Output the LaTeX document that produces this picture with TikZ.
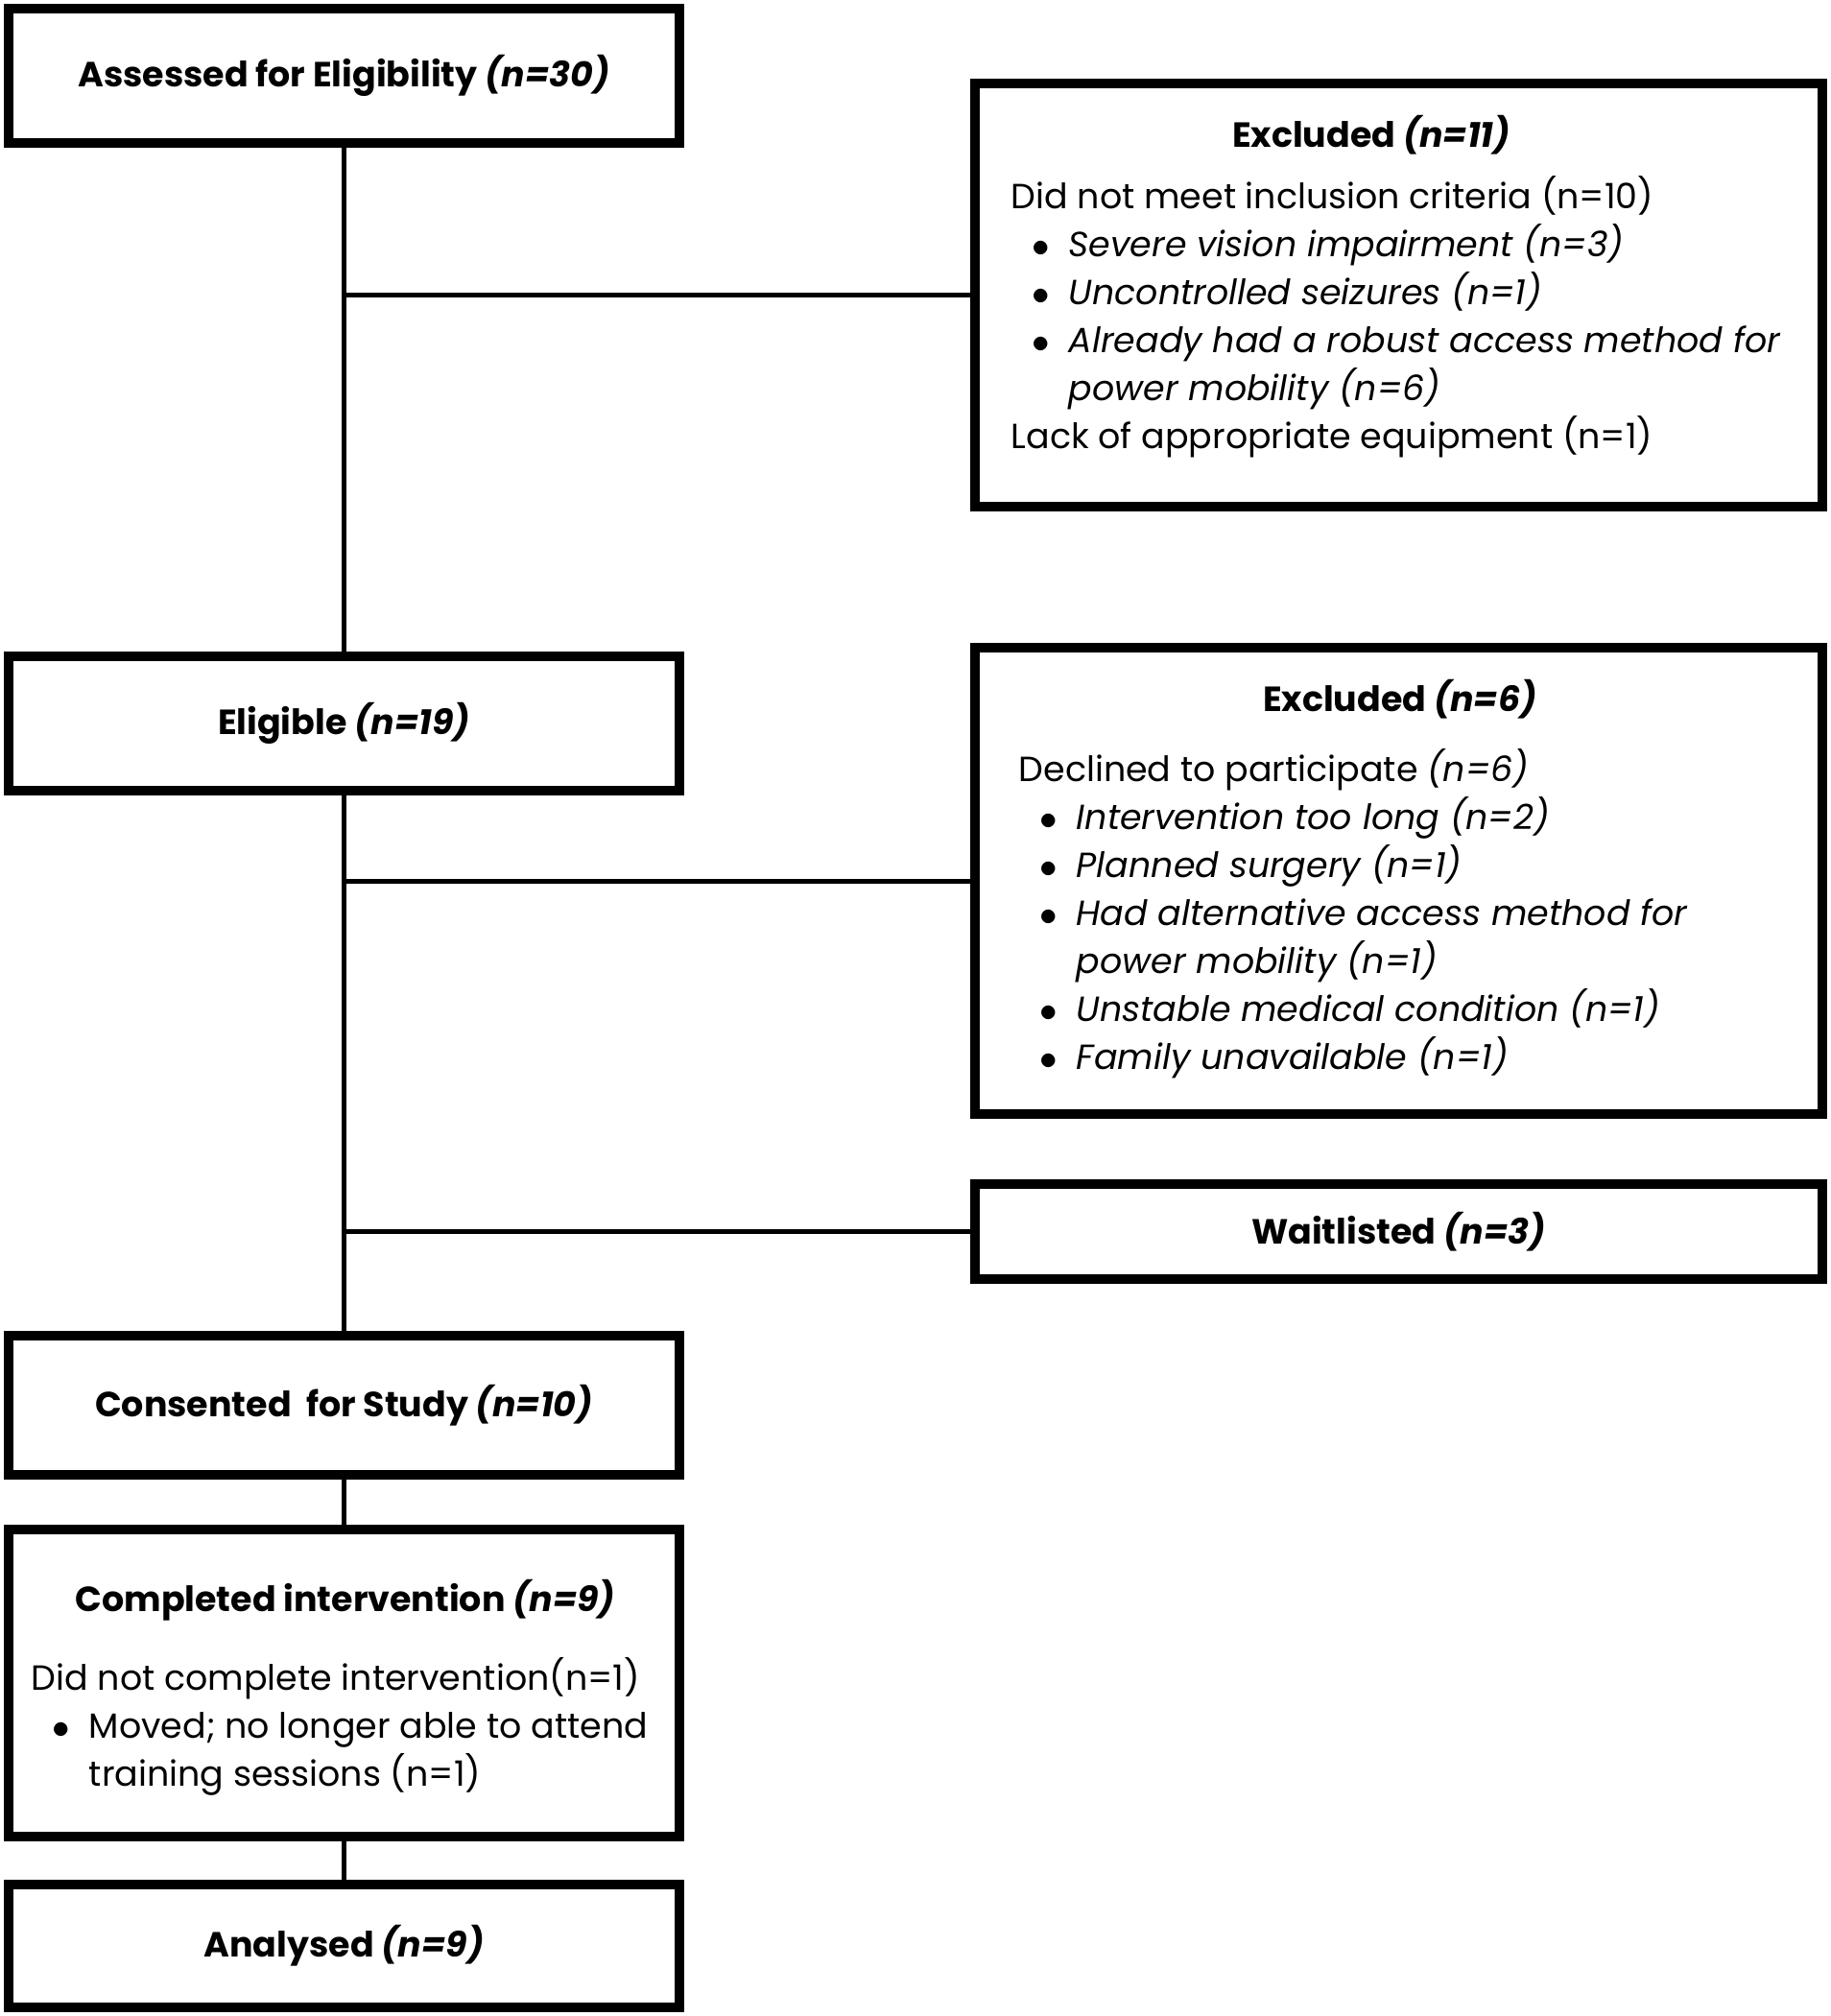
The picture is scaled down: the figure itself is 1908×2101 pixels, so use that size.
\documentclass[tikz,border=0pt]{standalone}
\usepackage{fontspec}
\setmainfont{Poppins}
\newcommand{\bul}{\hspace*{7.75pt}\makebox[0pt]{$\bullet$}\hspace*{7.25pt}}
\newcommand{\cont}{\hspace*{15pt}}

\begin{document}
\begin{tikzpicture}[x=0.25pt,y=-0.25pt,
  box/.style={draw, line width=2.5pt, inner sep=0pt, font=\bfseries\fontsize{9.1}{12.5}\selectfont},
  leftbox/.style={box, minimum width=174.75pt},
  rightbox/.style={box, minimum width=220.75pt},
  head/.style={inner sep=0pt, anchor=base, font=\bfseries\fontsize{9.1}{12.5}\selectfont},
  body/.style={inner sep=0pt, anchor=base west, font=\fontsize{9.1}{12.5}\selectfont},
  link/.style={line width=1.25pt}]

\useasboundingbox (0,0) rectangle (1908,2101);

\node[leftbox, minimum height=35pt] (assessed) at (358.5,79) {Assessed for Eligibility \textit{(n=30)}};
\node[rightbox, minimum height=110.25pt] (excl1) at (1457.5,307.5) {};
\node[leftbox, minimum height=35pt] (eligible) at (358.5,754) {Eligible \textit{(n=19)}};
\node[rightbox, minimum height=121.5pt] (excl2) at (1457.5,918) {};
\node[rightbox, minimum height=24.75pt] (wait) at (1457.5,1283.5) {Waitlisted \textit{(n=3)}};
\node[leftbox, minimum height=36.25pt] (consented) at (358.5,1464.5) {Consented~ for Study \textit{(n=10)}};
\node[leftbox, minimum height=80pt] (completed) at (358.5,1754) {};
\node[leftbox, minimum height=32pt] (analysed) at (358.5,2028) {Analysed \textit{(n=9)}};

\node[head] (excl1head) at (1429,153) {Excluded \textit{(n=11)}};
\node[body] (excl1body) at (1053,217) {\begin{tabular}[t]{@{}l@{}}
Did not meet inclusion criteria (n=10)\\
\bul\textit{Severe vision impairment (n=3)}\\
\bul\textit{Uncontrolled seizures (n=1)}\\
\bul\textit{Already had a robust access method for}\\
\cont\textit{power mobility (n=6)}\\
Lack of appropriate equipment (n=1)
\end{tabular}};

\node[head] (excl2head) at (1459,741) {Excluded \textit{(n=6)}};
\node[body] (excl2body) at (1061,814) {\begin{tabular}[t]{@{}l@{}}
Declined to participate \textit{(n=6)}\\
\bul\textit{Intervention too long (n=2)}\\
\bul\textit{Planned surgery (n=1)}\\
\bul\textit{Had alternative access method for}\\
\cont\textit{power mobility (n=1)}\\
\bul\textit{Unstable medical condition (n=1)}\\
\bul\textit{Family unavailable (n=1)}
\end{tabular}};

\node[head] (completedhead) at (360,1679) {Completed intervention \textit{(n=9)}};
\node[body] (completedbody) at (32,1761) {\begin{tabular}[t]{@{}l@{}}
Did not complete intervention(n=1)\\
\bul Moved; no longer able to attend\\
\cont training sessions (n=1)
\end{tabular}};

\draw[link] (assessed) -- (eligible);
\draw[link] (eligible) -- (consented);
\draw[link] (consented) -- (completed);
\draw[link] (completed) -- (analysed);
\draw[link] (assessed.south |- excl1.west) -- (excl1.west);
\draw[link] (eligible.south |- excl2.west) -- (excl2.west);
\draw[link] (eligible.south |- wait.west) -- (wait.west);

\end{tikzpicture}
\end{document}
